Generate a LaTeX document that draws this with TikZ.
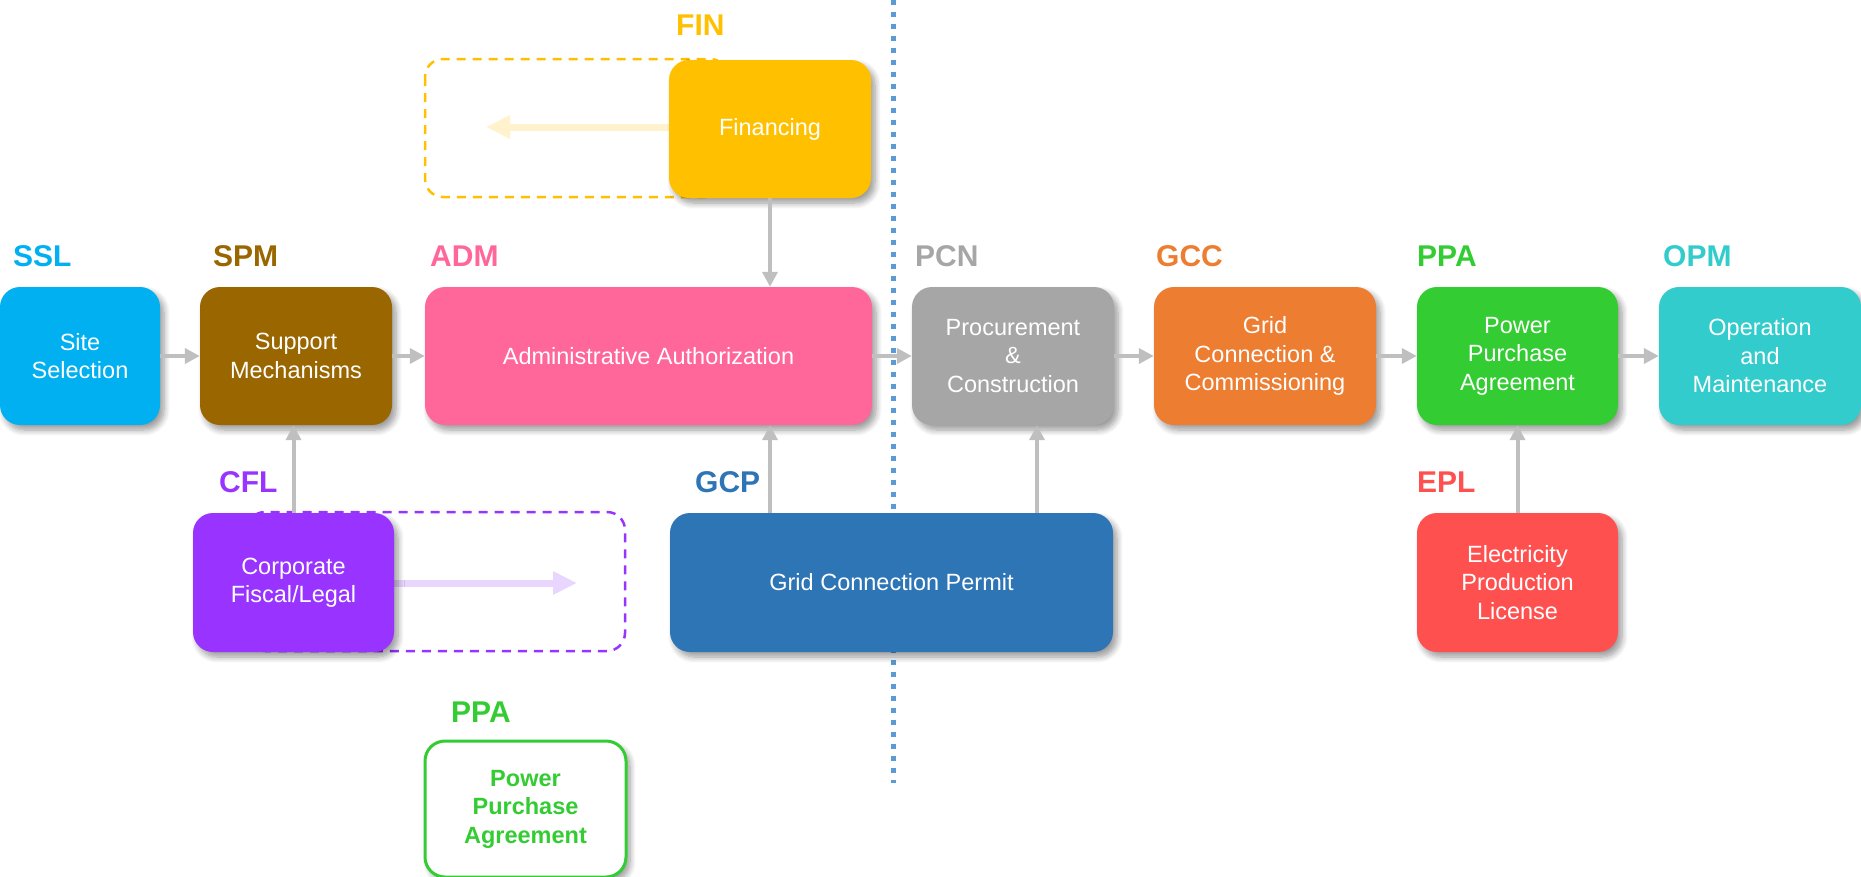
\documentclass[tikz,border=0pt]{standalone}
\usepackage{fontspec}
\setmainfont{Liberation Sans}
\usetikzlibrary{arrows.meta,shadows.blur,backgrounds,calc}
\definecolor{cSSL}{HTML}{00B0F0}
\definecolor{cSPM}{HTML}{996600}
\definecolor{cADM}{HTML}{FF6699}
\definecolor{cFIN}{HTML}{FFC000}
\definecolor{cPCN}{HTML}{A6A6A6}
\definecolor{cGCC}{HTML}{ED7D31}
\definecolor{cPPA}{HTML}{33CC33}
\definecolor{cOPM}{HTML}{33CCCC}
\definecolor{cCFL}{HTML}{9933FF}
\definecolor{cGCP}{HTML}{2E75B6}
\definecolor{cEPL}{HTML}{FF5050}
\definecolor{cDOT}{HTML}{5B9BD5}
\definecolor{arrgray}{HTML}{BFBFBF}
\definecolor{finfaint}{HTML}{FFF2CC}
\definecolor{cflfaint}{HTML}{E8D6FF}
\begin{document}
\begin{tikzpicture}[x=1pt,y=-1pt,
  box/.style={rounded corners=20pt, minimum height=138pt, inner sep=0pt, align=center,
    text=white, font=\fontsize{23.5}{28.5}\selectfont,
    blur shadow={shadow xshift=4pt, shadow yshift=-5pt, shadow opacity=40, shadow blur radius=6pt, shadow blur steps=8}},
  tag/.style={anchor=base west, font=\bfseries\fontsize{30}{36}\selectfont, inner sep=0pt},
  arr/.style={draw=arrgray, line width=4pt, -{Triangle[length=15pt,width=15pt]}},
  faint/.style={line width=7pt, -{Triangle[length=24pt,width=22pt]}},
  dashbox/.style={draw=#1, line width=2.5pt, dash pattern=on 9pt off 7pt, rounded corners=18pt},
  dotline/.style={draw=cDOT, line width=5pt, dash pattern=on 5pt off 7pt}
]
\useasboundingbox (0,0) rectangle (1861,876);

% top row
\node[box, fill=cSSL, minimum width=160pt] (ssl) at (80,356) {Site\\Selection};
\node[box, fill=cSPM, minimum width=192pt] (spm) at (296,356) {Support\\Mechanisms};
\node[box, fill=cADM, minimum width=447pt] (adm) at (648.5,356) {Administrative Authorization};
\node[box, fill=cPCN, minimum width=202pt] (pcn) at (1013,356) {Procurement\\\&\\Construction};
\node[box, fill=cGCC, minimum width=222pt] (gcc) at (1265,356) {Grid\\Connection \&\\Commissioning};
\node[box, fill=cPPA, minimum width=201pt] (ppa) at (1517.5,356) {Power\\Purchase\\Agreement};
\node[box, fill=cOPM, minimum width=202pt] (opm) at (1760,356) {Operation\\and\\Maintenance};

% other boxes
\node[box, fill=cFIN, minimum width=202pt] (fin) at (770,129) {Financing};
\node[box, fill=cCFL, minimum width=201pt, minimum height=139pt] (cfl) at (293.5,582.5) {Corporate\\Fiscal/Legal};
\node[box, fill=cGCP, minimum width=443pt, minimum height=139pt] (gcp) at (891.5,582.5) {Grid Connection Permit};
\node[box, fill=cEPL, minimum width=201pt, minimum height=139pt] (epl) at (1517.5,582.5) {Electricity\\Production\\License};
\node[box, fill=white, draw=cPPA, line width=3pt, text=cPPA, font=\bfseries\fontsize{23.5}{28.5}\selectfont,
  minimum width=201pt, minimum height=136pt] (ppab) at (525.5,809) {Power\\Purchase\\Agreement};

% tags
\node[tag, text=cSSL] (tssl) at (13,266) {SSL};
\node[tag, text=cSPM] (tspm) at (213,266) {SPM};
\node[tag, text=cADM] (tadm) at (430,266) {ADM};
\node[tag, text=cFIN] (tfin) at (676,35) {FIN};
\node[tag, text=cPCN] (tpcn) at (915,266) {PCN};
\node[tag, text=cGCC] (tgcc) at (1156,266) {GCC};
\node[tag, text=cPPA] (tppa) at (1417,266) {PPA};
\node[tag, text=cOPM] (topm) at (1663,266) {OPM};
\node[tag, text=cCFL] (tcfl) at (219,492) {CFL};
\node[tag, text=cGCP] (tgcp) at (695,492) {GCP};
\node[tag, text=cEPL] (tepl) at (1417,492) {EPL};
\node[tag, text=cPPA] (tppab) at (451,722) {PPA};

% background elements
\begin{scope}[on background layer]
  \draw[dotline] (893,0) -- (893,783);
  \draw[dashbox=cFIN] (425,59) rectangle (728,197);
  \draw[dashbox=cCFL] (247,512) rectangle (625,651);
  \coordinate (finend) at (486,127);
  \coordinate (cflend) at (577,583);
  \draw[faint, draw=finfaint] (fin.west |- finend) -- (finend);
  \draw[faint, draw=cflfaint] (cfl.east |- cflend) -- (cflend);
\end{scope}

% connectors
\draw[arr] (ssl.east) -- (spm.west);
\draw[arr] (spm.east) -- (adm.west);
\draw[arr] (adm.east) -- (pcn.west);
\draw[arr] (pcn.east) -- (gcc.west);
\draw[arr] (gcc.east) -- (ppa.west);
\draw[arr] (ppa.east) -- (opm.west);
\draw[arr] (fin.south) -- (fin.south |- adm.north);
\draw[arr] (cfl.north) -- (cfl.north |- spm.south);
\draw[arr] (gcp.north -| fin.south) -- (adm.south -| fin.south);
\path (pcn.south) ++(24,0) coordinate (pcnin);
\draw[arr] (gcp.north -| pcnin) -- (pcnin);
\draw[arr] (epl.north) -- (ppa.south);
\end{tikzpicture}
\end{document}
